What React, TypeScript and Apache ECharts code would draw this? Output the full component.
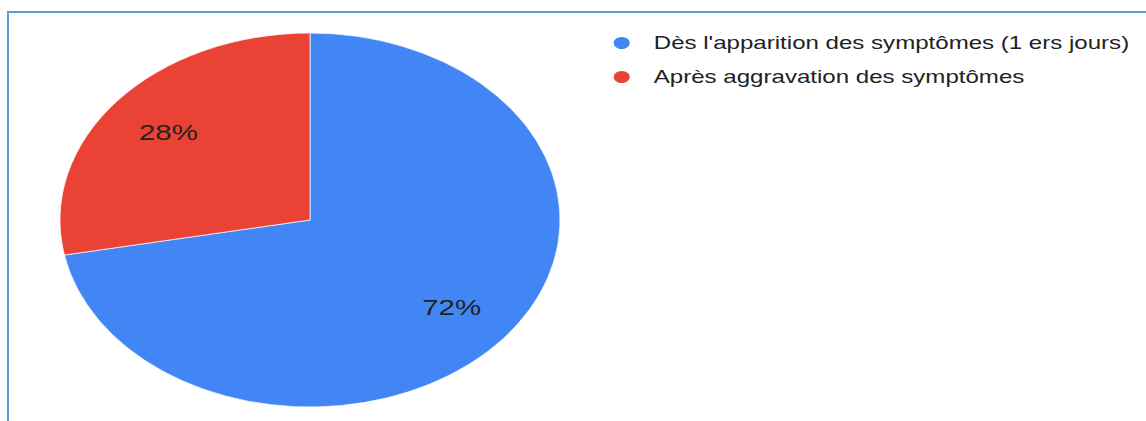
import React, { useEffect, useRef } from "react";
import * as echarts from "echarts";

const categories = [
  "Dès l'apparition des symptômes (1 ers jours)",
  "Après aggravation des symptômes",
];
const values = [72, 28];
const colors = ["#4285f4", "#ea4335"];

const SX = 1.337;
const W = 1146;
const H = 421;
const UW = W / SX;

export default function App() {
  const ref = useRef<HTMLDivElement>(null);
  useEffect(() => {
    if (!ref.current) return;
    const chart = echarts.init(ref.current, undefined, { renderer: "svg" });
    const data = categories.map((name, i) => ({
      name,
      value: values[i],
      itemStyle: { color: colors[i] },
    }));
    const font = "'Liberation Sans', Arial, sans-serif";
    chart.setOption({
      animation: false,
      legend: {
        orient: "vertical",
        left: 452,
        top: 29,
        icon: "circle",
        itemWidth: 38,
        itemHeight: 14,
        itemGap: 16,
        symbolKeepAspect: true,
        textStyle: { color: "#222", fontSize: 18, fontFamily: font },
        data: categories,
      },
      series: [
        {
          type: "pie",
          center: [310 / SX, 220],
          radius: [0, 187],
          startAngle: 90,
          clockwise: true,
          data,
          label: { show: false },
          labelLine: { show: false },
          itemStyle: { borderColor: "#fff", borderWidth: 0.6 },
          emphasis: { disabled: true },
        },
        {
          type: "pie",
          center: [310 / SX, 220],
          radius: [82, 187],
          startAngle: 90,
          clockwise: true,
          silent: true,
          legendHoverLink: false,
          data: data.map((d) => ({ ...d, itemStyle: { color: "rgba(0,0,0,0)" } })),
          label: {
            show: true,
            position: "inside",
            formatter: (p: any) => `${p.value}%`,
            color: "#222",
            fontSize: 22,
            fontFamily: font,
          },
          labelLine: { show: false },
          emphasis: { disabled: true },
        },
      ],
    });
    return () => chart.dispose();
  }, []);
  return (
    <div
      style={{
        position: "fixed",
        left: 0,
        top: 0,
        width: W,
        height: H,
        overflow: "hidden",
        background: "#fff",
      }}
    >
      <div
        style={{
          position: "absolute",
          left: 0,
          top: 0,
          width: UW,
          height: H,
          transform: `scaleX(${SX})`,
          transformOrigin: "0 0",
        }}
      >
        <div ref={ref} style={{ width: UW, height: H }} />
      </div>
      <div
        style={{
          position: "absolute",
          left: 7,
          top: 11,
          width: W + 20,
          height: H + 20,
          borderTop: "2px solid #5b9bd5",
          borderLeft: "2px solid #5b9bd5",
          boxSizing: "border-box",
          pointerEvents: "none",
        }}
      />
    </div>
  );
}
